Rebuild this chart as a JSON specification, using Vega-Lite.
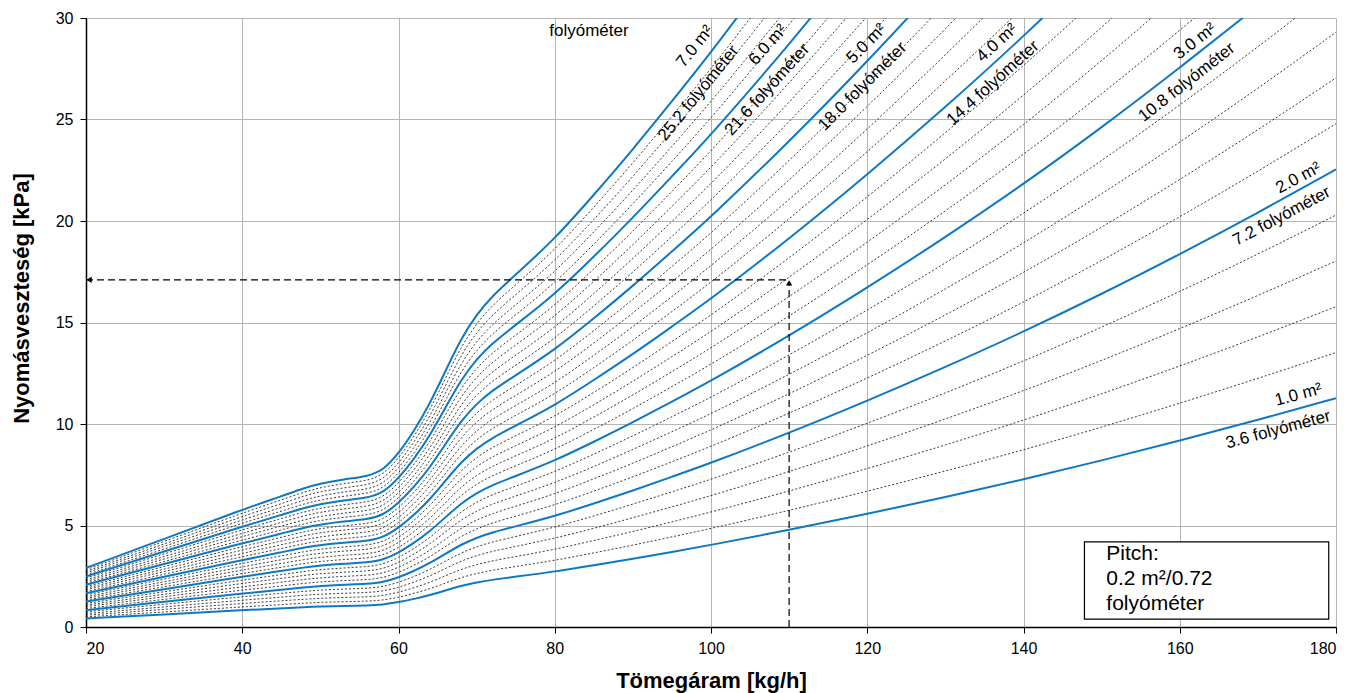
{
"$schema": "https://vega.github.io/schema/vega-lite/v6.json",
"width": 1250, "height": 609,
"autosize": {"type": "none"},
"padding": {"left": 86, "top": 18, "right": 18, "bottom": 66},
"background": "#ffffff",
"config": {
  "font": "Liberation Sans",
  "view": {"stroke": null},
  "axis": {"labelFont": "Liberation Sans", "labelFontSize": 16, "labelColor": "#000000", "titleFont": "Liberation Sans", "titleFontSize": 22, "titleFontWeight": "bold", "titleColor": "#000000", "domainColor": "#000000", "domainWidth": 1.5, "tickColor": "#000000", "tickSize": 6, "tickWidth": 1, "gridColor": "#b4b4b4", "gridWidth": 1, "labelPadding": 7}
},
"datasets": {"curves": [
{"a":1,"x":20,"y":0.42},{"a":1.2,"x":20,"y":0.5},{"a":1.4,"x":20,"y":0.58},{"a":1.6,"x":20,"y":0.66},{"a":1.8,"x":20,"y":0.75},{"a":2,"x":20,"y":0.83},{"a":2.2,"x":20,"y":0.91},{"a":2.4,"x":20,"y":1},{"a":2.6,"x":20,"y":1.08},{"a":2.8,"x":20,"y":1.16},{"a":3,"x":20,"y":1.25},{"a":3.2,"x":20,"y":1.33},{"a":3.4,"x":20,"y":1.41},{"a":3.6,"x":20,"y":1.49},{"a":3.8,"x":20,"y":1.58},{"a":4,"x":20,"y":1.66},{"a":4.2,"x":20,"y":1.74},{"a":4.4,"x":20,"y":1.83},{"a":4.6,"x":20,"y":1.91},{"a":4.8,"x":20,"y":1.99},{"a":5,"x":20,"y":2.08},{"a":5.2,"x":20,"y":2.16},{"a":5.4,"x":20,"y":2.24},{"a":5.6,"x":20,"y":2.32},{"a":5.8,"x":20,"y":2.41},{"a":6,"x":20,"y":2.49},{"a":6.2,"x":20,"y":2.57},{"a":6.4,"x":20,"y":2.66},{"a":6.6,"x":20,"y":2.74},{"a":6.8,"x":20,"y":2.82},{"a":7,"x":20,"y":2.91},
{"a":1,"x":30,"y":0.62},{"a":1.2,"x":30,"y":0.74},{"a":1.4,"x":30,"y":0.87},{"a":1.6,"x":30,"y":0.99},{"a":1.8,"x":30,"y":1.12},{"a":2,"x":30,"y":1.24},{"a":2.2,"x":30,"y":1.36},{"a":2.4,"x":30,"y":1.49},{"a":2.6,"x":30,"y":1.61},{"a":2.8,"x":30,"y":1.74},{"a":3,"x":30,"y":1.86},{"a":3.2,"x":30,"y":1.98},{"a":3.4,"x":30,"y":2.11},{"a":3.6,"x":30,"y":2.23},{"a":3.8,"x":30,"y":2.36},{"a":4,"x":30,"y":2.48},{"a":4.2,"x":30,"y":2.6},{"a":4.4,"x":30,"y":2.73},{"a":4.6,"x":30,"y":2.85},{"a":4.8,"x":30,"y":2.98},{"a":5,"x":30,"y":3.1},{"a":5.2,"x":30,"y":3.22},{"a":5.4,"x":30,"y":3.35},{"a":5.6,"x":30,"y":3.47},{"a":5.8,"x":30,"y":3.6},{"a":6,"x":30,"y":3.72},{"a":6.2,"x":30,"y":3.84},{"a":6.4,"x":30,"y":3.97},{"a":6.6,"x":30,"y":4.09},{"a":6.8,"x":30,"y":4.22},{"a":7,"x":30,"y":4.34},
{"a":1,"x":40,"y":0.83},{"a":1.2,"x":40,"y":0.99},{"a":1.4,"x":40,"y":1.16},{"a":1.6,"x":40,"y":1.32},{"a":1.8,"x":40,"y":1.49},{"a":2,"x":40,"y":1.65},{"a":2.2,"x":40,"y":1.82},{"a":2.4,"x":40,"y":1.98},{"a":2.6,"x":40,"y":2.15},{"a":2.8,"x":40,"y":2.31},{"a":3,"x":40,"y":2.48},{"a":3.2,"x":40,"y":2.64},{"a":3.4,"x":40,"y":2.81},{"a":3.6,"x":40,"y":2.97},{"a":3.8,"x":40,"y":3.14},{"a":4,"x":40,"y":3.3},{"a":4.2,"x":40,"y":3.47},{"a":4.4,"x":40,"y":3.63},{"a":4.6,"x":40,"y":3.8},{"a":4.8,"x":40,"y":3.96},{"a":5,"x":40,"y":4.13},{"a":5.2,"x":40,"y":4.29},{"a":5.4,"x":40,"y":4.46},{"a":5.6,"x":40,"y":4.62},{"a":5.8,"x":40,"y":4.79},{"a":6,"x":40,"y":4.95},{"a":6.2,"x":40,"y":5.12},{"a":6.4,"x":40,"y":5.28},{"a":6.6,"x":40,"y":5.45},{"a":6.8,"x":40,"y":5.61},{"a":7,"x":40,"y":5.78},
{"a":1,"x":45,"y":0.92},{"a":1.2,"x":45,"y":1.1},{"a":1.4,"x":45,"y":1.29},{"a":1.6,"x":45,"y":1.47},{"a":1.8,"x":45,"y":1.66},{"a":2,"x":45,"y":1.84},{"a":2.2,"x":45,"y":2.02},{"a":2.4,"x":45,"y":2.21},{"a":2.6,"x":45,"y":2.39},{"a":2.8,"x":45,"y":2.58},{"a":3,"x":45,"y":2.76},{"a":3.2,"x":45,"y":2.94},{"a":3.4,"x":45,"y":3.13},{"a":3.6,"x":45,"y":3.31},{"a":3.8,"x":45,"y":3.5},{"a":4,"x":45,"y":3.68},{"a":4.2,"x":45,"y":3.86},{"a":4.4,"x":45,"y":4.05},{"a":4.6,"x":45,"y":4.23},{"a":4.8,"x":45,"y":4.42},{"a":5,"x":45,"y":4.6},{"a":5.2,"x":45,"y":4.78},{"a":5.4,"x":45,"y":4.97},{"a":5.6,"x":45,"y":5.15},{"a":5.8,"x":45,"y":5.34},{"a":6,"x":45,"y":5.52},{"a":6.2,"x":45,"y":5.7},{"a":6.4,"x":45,"y":5.89},{"a":6.6,"x":45,"y":6.07},{"a":6.8,"x":45,"y":6.26},{"a":7,"x":45,"y":6.44},
{"a":1,"x":48,"y":0.98},{"a":1.2,"x":48,"y":1.18},{"a":1.4,"x":48,"y":1.37},{"a":1.6,"x":48,"y":1.57},{"a":1.8,"x":48,"y":1.76},{"a":2,"x":48,"y":1.96},{"a":2.2,"x":48,"y":2.16},{"a":2.4,"x":48,"y":2.35},{"a":2.6,"x":48,"y":2.55},{"a":2.8,"x":48,"y":2.74},{"a":3,"x":48,"y":2.94},{"a":3.2,"x":48,"y":3.14},{"a":3.4,"x":48,"y":3.33},{"a":3.6,"x":48,"y":3.53},{"a":3.8,"x":48,"y":3.72},{"a":4,"x":48,"y":3.92},{"a":4.2,"x":48,"y":4.12},{"a":4.4,"x":48,"y":4.31},{"a":4.6,"x":48,"y":4.51},{"a":4.8,"x":48,"y":4.7},{"a":5,"x":48,"y":4.9},{"a":5.2,"x":48,"y":5.1},{"a":5.4,"x":48,"y":5.29},{"a":5.6,"x":48,"y":5.49},{"a":5.8,"x":48,"y":5.68},{"a":6,"x":48,"y":5.88},{"a":6.2,"x":48,"y":6.08},{"a":6.4,"x":48,"y":6.27},{"a":6.6,"x":48,"y":6.47},{"a":6.8,"x":48,"y":6.66},{"a":7,"x":48,"y":6.86},
{"a":1,"x":50,"y":1.01},{"a":1.2,"x":50,"y":1.21},{"a":1.4,"x":50,"y":1.41},{"a":1.6,"x":50,"y":1.62},{"a":1.8,"x":50,"y":1.82},{"a":2,"x":50,"y":2.02},{"a":2.2,"x":50,"y":2.22},{"a":2.4,"x":50,"y":2.42},{"a":2.6,"x":50,"y":2.63},{"a":2.8,"x":50,"y":2.83},{"a":3,"x":50,"y":3.03},{"a":3.2,"x":50,"y":3.23},{"a":3.4,"x":50,"y":3.43},{"a":3.6,"x":50,"y":3.64},{"a":3.8,"x":50,"y":3.84},{"a":4,"x":50,"y":4.04},{"a":4.2,"x":50,"y":4.24},{"a":4.4,"x":50,"y":4.44},{"a":4.6,"x":50,"y":4.65},{"a":4.8,"x":50,"y":4.85},{"a":5,"x":50,"y":5.05},{"a":5.2,"x":50,"y":5.25},{"a":5.4,"x":50,"y":5.45},{"a":5.6,"x":50,"y":5.66},{"a":5.8,"x":50,"y":5.86},{"a":6,"x":50,"y":6.06},{"a":6.2,"x":50,"y":6.26},{"a":6.4,"x":50,"y":6.46},{"a":6.6,"x":50,"y":6.67},{"a":6.8,"x":50,"y":6.87},{"a":7,"x":50,"y":7.07},
{"a":1,"x":53,"y":1.04},{"a":1.2,"x":53,"y":1.25},{"a":1.4,"x":53,"y":1.46},{"a":1.6,"x":53,"y":1.66},{"a":1.8,"x":53,"y":1.87},{"a":2,"x":53,"y":2.08},{"a":2.2,"x":53,"y":2.29},{"a":2.4,"x":53,"y":2.5},{"a":2.6,"x":53,"y":2.7},{"a":2.8,"x":53,"y":2.91},{"a":3,"x":53,"y":3.12},{"a":3.2,"x":53,"y":3.33},{"a":3.4,"x":53,"y":3.54},{"a":3.6,"x":53,"y":3.74},{"a":3.8,"x":53,"y":3.95},{"a":4,"x":53,"y":4.16},{"a":4.2,"x":53,"y":4.37},{"a":4.4,"x":53,"y":4.58},{"a":4.6,"x":53,"y":4.78},{"a":4.8,"x":53,"y":4.99},{"a":5,"x":53,"y":5.2},{"a":5.2,"x":53,"y":5.41},{"a":5.4,"x":53,"y":5.62},{"a":5.6,"x":53,"y":5.82},{"a":5.8,"x":53,"y":6.03},{"a":6,"x":53,"y":6.24},{"a":6.2,"x":53,"y":6.45},{"a":6.4,"x":53,"y":6.66},{"a":6.6,"x":53,"y":6.86},{"a":6.8,"x":53,"y":7.07},{"a":7,"x":53,"y":7.28},
{"a":1,"x":56,"y":1.06},{"a":1.2,"x":56,"y":1.27},{"a":1.4,"x":56,"y":1.48},{"a":1.6,"x":56,"y":1.7},{"a":1.8,"x":56,"y":1.91},{"a":2,"x":56,"y":2.12},{"a":2.2,"x":56,"y":2.33},{"a":2.4,"x":56,"y":2.54},{"a":2.6,"x":56,"y":2.76},{"a":2.8,"x":56,"y":2.97},{"a":3,"x":56,"y":3.18},{"a":3.2,"x":56,"y":3.39},{"a":3.4,"x":56,"y":3.6},{"a":3.6,"x":56,"y":3.82},{"a":3.8,"x":56,"y":4.03},{"a":4,"x":56,"y":4.24},{"a":4.2,"x":56,"y":4.45},{"a":4.4,"x":56,"y":4.66},{"a":4.6,"x":56,"y":4.88},{"a":4.8,"x":56,"y":5.09},{"a":5,"x":56,"y":5.3},{"a":5.2,"x":56,"y":5.51},{"a":5.4,"x":56,"y":5.72},{"a":5.6,"x":56,"y":5.94},{"a":5.8,"x":56,"y":6.15},{"a":6,"x":56,"y":6.36},{"a":6.2,"x":56,"y":6.57},{"a":6.4,"x":56,"y":6.78},{"a":6.6,"x":56,"y":7},{"a":6.8,"x":56,"y":7.21},{"a":7,"x":56,"y":7.42},
{"a":1,"x":58,"y":1.1},{"a":1.2,"x":58,"y":1.32},{"a":1.4,"x":58,"y":1.54},{"a":1.6,"x":58,"y":1.76},{"a":1.8,"x":58,"y":1.98},{"a":2,"x":58,"y":2.2},{"a":2.2,"x":58,"y":2.42},{"a":2.4,"x":58,"y":2.64},{"a":2.6,"x":58,"y":2.86},{"a":2.8,"x":58,"y":3.08},{"a":3,"x":58,"y":3.3},{"a":3.2,"x":58,"y":3.52},{"a":3.4,"x":58,"y":3.74},{"a":3.6,"x":58,"y":3.96},{"a":3.8,"x":58,"y":4.18},{"a":4,"x":58,"y":4.4},{"a":4.2,"x":58,"y":4.62},{"a":4.4,"x":58,"y":4.84},{"a":4.6,"x":58,"y":5.06},{"a":4.8,"x":58,"y":5.28},{"a":5,"x":58,"y":5.5},{"a":5.2,"x":58,"y":5.72},{"a":5.4,"x":58,"y":5.94},{"a":5.6,"x":58,"y":6.16},{"a":5.8,"x":58,"y":6.38},{"a":6,"x":58,"y":6.6},{"a":6.2,"x":58,"y":6.82},{"a":6.4,"x":58,"y":7.04},{"a":6.6,"x":58,"y":7.26},{"a":6.8,"x":58,"y":7.48},{"a":7,"x":58,"y":7.7},
{"a":1,"x":60,"y":1.22},{"a":1.2,"x":60,"y":1.46},{"a":1.4,"x":60,"y":1.71},{"a":1.6,"x":60,"y":1.95},{"a":1.8,"x":60,"y":2.2},{"a":2,"x":60,"y":2.44},{"a":2.2,"x":60,"y":2.68},{"a":2.4,"x":60,"y":2.93},{"a":2.6,"x":60,"y":3.17},{"a":2.8,"x":60,"y":3.42},{"a":3,"x":60,"y":3.66},{"a":3.2,"x":60,"y":3.9},{"a":3.4,"x":60,"y":4.15},{"a":3.6,"x":60,"y":4.39},{"a":3.8,"x":60,"y":4.64},{"a":4,"x":60,"y":4.88},{"a":4.2,"x":60,"y":5.12},{"a":4.4,"x":60,"y":5.37},{"a":4.6,"x":60,"y":5.61},{"a":4.8,"x":60,"y":5.86},{"a":5,"x":60,"y":6.1},{"a":5.2,"x":60,"y":6.34},{"a":5.4,"x":60,"y":6.59},{"a":5.6,"x":60,"y":6.83},{"a":5.8,"x":60,"y":7.08},{"a":6,"x":60,"y":7.32},{"a":6.2,"x":60,"y":7.56},{"a":6.4,"x":60,"y":7.81},{"a":6.6,"x":60,"y":8.05},{"a":6.8,"x":60,"y":8.3},{"a":7,"x":60,"y":8.54},
{"a":1,"x":62,"y":1.38},{"a":1.2,"x":62,"y":1.66},{"a":1.4,"x":62,"y":1.93},{"a":1.6,"x":62,"y":2.21},{"a":1.8,"x":62,"y":2.48},{"a":2,"x":62,"y":2.76},{"a":2.2,"x":62,"y":3.04},{"a":2.4,"x":62,"y":3.31},{"a":2.6,"x":62,"y":3.59},{"a":2.8,"x":62,"y":3.86},{"a":3,"x":62,"y":4.14},{"a":3.2,"x":62,"y":4.42},{"a":3.4,"x":62,"y":4.69},{"a":3.6,"x":62,"y":4.97},{"a":3.8,"x":62,"y":5.24},{"a":4,"x":62,"y":5.52},{"a":4.2,"x":62,"y":5.8},{"a":4.4,"x":62,"y":6.07},{"a":4.6,"x":62,"y":6.35},{"a":4.8,"x":62,"y":6.62},{"a":5,"x":62,"y":6.9},{"a":5.2,"x":62,"y":7.18},{"a":5.4,"x":62,"y":7.45},{"a":5.6,"x":62,"y":7.73},{"a":5.8,"x":62,"y":8},{"a":6,"x":62,"y":8.28},{"a":6.2,"x":62,"y":8.56},{"a":6.4,"x":62,"y":8.83},{"a":6.6,"x":62,"y":9.11},{"a":6.8,"x":62,"y":9.38},{"a":7,"x":62,"y":9.66},
{"a":1,"x":64,"y":1.57},{"a":1.2,"x":64,"y":1.88},{"a":1.4,"x":64,"y":2.2},{"a":1.6,"x":64,"y":2.51},{"a":1.8,"x":64,"y":2.83},{"a":2,"x":64,"y":3.14},{"a":2.2,"x":64,"y":3.45},{"a":2.4,"x":64,"y":3.77},{"a":2.6,"x":64,"y":4.08},{"a":2.8,"x":64,"y":4.4},{"a":3,"x":64,"y":4.71},{"a":3.2,"x":64,"y":5.02},{"a":3.4,"x":64,"y":5.34},{"a":3.6,"x":64,"y":5.65},{"a":3.8,"x":64,"y":5.97},{"a":4,"x":64,"y":6.28},{"a":4.2,"x":64,"y":6.59},{"a":4.4,"x":64,"y":6.91},{"a":4.6,"x":64,"y":7.22},{"a":4.8,"x":64,"y":7.54},{"a":5,"x":64,"y":7.85},{"a":5.2,"x":64,"y":8.16},{"a":5.4,"x":64,"y":8.48},{"a":5.6,"x":64,"y":8.79},{"a":5.8,"x":64,"y":9.11},{"a":6,"x":64,"y":9.42},{"a":6.2,"x":64,"y":9.73},{"a":6.4,"x":64,"y":10.05},{"a":6.6,"x":64,"y":10.36},{"a":6.8,"x":64,"y":10.68},{"a":7,"x":64,"y":10.99},
{"a":1,"x":66,"y":1.8},{"a":1.2,"x":66,"y":2.16},{"a":1.4,"x":66,"y":2.52},{"a":1.6,"x":66,"y":2.88},{"a":1.8,"x":66,"y":3.24},{"a":2,"x":66,"y":3.6},{"a":2.2,"x":66,"y":3.96},{"a":2.4,"x":66,"y":4.32},{"a":2.6,"x":66,"y":4.68},{"a":2.8,"x":66,"y":5.04},{"a":3,"x":66,"y":5.4},{"a":3.2,"x":66,"y":5.76},{"a":3.4,"x":66,"y":6.12},{"a":3.6,"x":66,"y":6.48},{"a":3.8,"x":66,"y":6.84},{"a":4,"x":66,"y":7.2},{"a":4.2,"x":66,"y":7.56},{"a":4.4,"x":66,"y":7.92},{"a":4.6,"x":66,"y":8.28},{"a":4.8,"x":66,"y":8.64},{"a":5,"x":66,"y":9},{"a":5.2,"x":66,"y":9.36},{"a":5.4,"x":66,"y":9.72},{"a":5.6,"x":66,"y":10.08},{"a":5.8,"x":66,"y":10.44},{"a":6,"x":66,"y":10.8},{"a":6.2,"x":66,"y":11.16},{"a":6.4,"x":66,"y":11.52},{"a":6.6,"x":66,"y":11.88},{"a":6.8,"x":66,"y":12.24},{"a":7,"x":66,"y":12.6},
{"a":1,"x":68,"y":2.03},{"a":1.2,"x":68,"y":2.44},{"a":1.4,"x":68,"y":2.84},{"a":1.6,"x":68,"y":3.25},{"a":1.8,"x":68,"y":3.65},{"a":2,"x":68,"y":4.06},{"a":2.2,"x":68,"y":4.47},{"a":2.4,"x":68,"y":4.87},{"a":2.6,"x":68,"y":5.28},{"a":2.8,"x":68,"y":5.68},{"a":3,"x":68,"y":6.09},{"a":3.2,"x":68,"y":6.5},{"a":3.4,"x":68,"y":6.9},{"a":3.6,"x":68,"y":7.31},{"a":3.8,"x":68,"y":7.71},{"a":4,"x":68,"y":8.12},{"a":4.2,"x":68,"y":8.53},{"a":4.4,"x":68,"y":8.93},{"a":4.6,"x":68,"y":9.34},{"a":4.8,"x":68,"y":9.74},{"a":5,"x":68,"y":10.15},{"a":5.2,"x":68,"y":10.56},{"a":5.4,"x":68,"y":10.96},{"a":5.6,"x":68,"y":11.37},{"a":5.8,"x":68,"y":11.77},{"a":6,"x":68,"y":12.18},{"a":6.2,"x":68,"y":12.59},{"a":6.4,"x":68,"y":12.99},{"a":6.6,"x":68,"y":13.4},{"a":6.8,"x":68,"y":13.8},{"a":7,"x":68,"y":14.21},
{"a":1,"x":70,"y":2.2},{"a":1.2,"x":70,"y":2.64},{"a":1.4,"x":70,"y":3.08},{"a":1.6,"x":70,"y":3.52},{"a":1.8,"x":70,"y":3.96},{"a":2,"x":70,"y":4.4},{"a":2.2,"x":70,"y":4.84},{"a":2.4,"x":70,"y":5.28},{"a":2.6,"x":70,"y":5.72},{"a":2.8,"x":70,"y":6.16},{"a":3,"x":70,"y":6.6},{"a":3.2,"x":70,"y":7.04},{"a":3.4,"x":70,"y":7.48},{"a":3.6,"x":70,"y":7.92},{"a":3.8,"x":70,"y":8.36},{"a":4,"x":70,"y":8.8},{"a":4.2,"x":70,"y":9.24},{"a":4.4,"x":70,"y":9.68},{"a":4.6,"x":70,"y":10.12},{"a":4.8,"x":70,"y":10.56},{"a":5,"x":70,"y":11},{"a":5.2,"x":70,"y":11.44},{"a":5.4,"x":70,"y":11.88},{"a":5.6,"x":70,"y":12.32},{"a":5.8,"x":70,"y":12.76},{"a":6,"x":70,"y":13.2},{"a":6.2,"x":70,"y":13.64},{"a":6.4,"x":70,"y":14.08},{"a":6.6,"x":70,"y":14.52},{"a":6.8,"x":70,"y":14.96},{"a":7,"x":70,"y":15.4},
{"a":1,"x":72,"y":2.33},{"a":1.2,"x":72,"y":2.8},{"a":1.4,"x":72,"y":3.26},{"a":1.6,"x":72,"y":3.73},{"a":1.8,"x":72,"y":4.19},{"a":2,"x":72,"y":4.66},{"a":2.2,"x":72,"y":5.13},{"a":2.4,"x":72,"y":5.59},{"a":2.6,"x":72,"y":6.06},{"a":2.8,"x":72,"y":6.52},{"a":3,"x":72,"y":6.99},{"a":3.2,"x":72,"y":7.46},{"a":3.4,"x":72,"y":7.92},{"a":3.6,"x":72,"y":8.39},{"a":3.8,"x":72,"y":8.85},{"a":4,"x":72,"y":9.32},{"a":4.2,"x":72,"y":9.79},{"a":4.4,"x":72,"y":10.25},{"a":4.6,"x":72,"y":10.72},{"a":4.8,"x":72,"y":11.18},{"a":5,"x":72,"y":11.65},{"a":5.2,"x":72,"y":12.12},{"a":5.4,"x":72,"y":12.58},{"a":5.6,"x":72,"y":13.05},{"a":5.8,"x":72,"y":13.51},{"a":6,"x":72,"y":13.98},{"a":6.2,"x":72,"y":14.45},{"a":6.4,"x":72,"y":14.91},{"a":6.6,"x":72,"y":15.38},{"a":6.8,"x":72,"y":15.84},{"a":7,"x":72,"y":16.31},
{"a":1,"x":75,"y":2.48},{"a":1.2,"x":75,"y":2.98},{"a":1.4,"x":75,"y":3.47},{"a":1.6,"x":75,"y":3.97},{"a":1.8,"x":75,"y":4.46},{"a":2,"x":75,"y":4.96},{"a":2.2,"x":75,"y":5.46},{"a":2.4,"x":75,"y":5.95},{"a":2.6,"x":75,"y":6.45},{"a":2.8,"x":75,"y":6.94},{"a":3,"x":75,"y":7.44},{"a":3.2,"x":75,"y":7.94},{"a":3.4,"x":75,"y":8.43},{"a":3.6,"x":75,"y":8.93},{"a":3.8,"x":75,"y":9.42},{"a":4,"x":75,"y":9.92},{"a":4.2,"x":75,"y":10.42},{"a":4.4,"x":75,"y":10.91},{"a":4.6,"x":75,"y":11.41},{"a":4.8,"x":75,"y":11.9},{"a":5,"x":75,"y":12.4},{"a":5.2,"x":75,"y":12.9},{"a":5.4,"x":75,"y":13.39},{"a":5.6,"x":75,"y":13.89},{"a":5.8,"x":75,"y":14.38},{"a":6,"x":75,"y":14.88},{"a":6.2,"x":75,"y":15.38},{"a":6.4,"x":75,"y":15.87},{"a":6.6,"x":75,"y":16.37},{"a":6.8,"x":75,"y":16.86},{"a":7,"x":75,"y":17.36},
{"a":1,"x":80,"y":2.73},{"a":1.2,"x":80,"y":3.28},{"a":1.4,"x":80,"y":3.82},{"a":1.6,"x":80,"y":4.37},{"a":1.8,"x":80,"y":4.91},{"a":2,"x":80,"y":5.46},{"a":2.2,"x":80,"y":6.01},{"a":2.4,"x":80,"y":6.55},{"a":2.6,"x":80,"y":7.1},{"a":2.8,"x":80,"y":7.64},{"a":3,"x":80,"y":8.19},{"a":3.2,"x":80,"y":8.74},{"a":3.4,"x":80,"y":9.28},{"a":3.6,"x":80,"y":9.83},{"a":3.8,"x":80,"y":10.37},{"a":4,"x":80,"y":10.92},{"a":4.2,"x":80,"y":11.47},{"a":4.4,"x":80,"y":12.01},{"a":4.6,"x":80,"y":12.56},{"a":4.8,"x":80,"y":13.1},{"a":5,"x":80,"y":13.65},{"a":5.2,"x":80,"y":14.2},{"a":5.4,"x":80,"y":14.74},{"a":5.6,"x":80,"y":15.29},{"a":5.8,"x":80,"y":15.83},{"a":6,"x":80,"y":16.38},{"a":6.2,"x":80,"y":16.93},{"a":6.4,"x":80,"y":17.47},{"a":6.6,"x":80,"y":18.02},{"a":6.8,"x":80,"y":18.56},{"a":7,"x":80,"y":19.11},
{"a":1,"x":85,"y":3.04},{"a":1.2,"x":85,"y":3.65},{"a":1.4,"x":85,"y":4.26},{"a":1.6,"x":85,"y":4.86},{"a":1.8,"x":85,"y":5.47},{"a":2,"x":85,"y":6.08},{"a":2.2,"x":85,"y":6.69},{"a":2.4,"x":85,"y":7.3},{"a":2.6,"x":85,"y":7.9},{"a":2.8,"x":85,"y":8.51},{"a":3,"x":85,"y":9.12},{"a":3.2,"x":85,"y":9.73},{"a":3.4,"x":85,"y":10.34},{"a":3.6,"x":85,"y":10.94},{"a":3.8,"x":85,"y":11.55},{"a":4,"x":85,"y":12.16},{"a":4.2,"x":85,"y":12.77},{"a":4.4,"x":85,"y":13.38},{"a":4.6,"x":85,"y":13.98},{"a":4.8,"x":85,"y":14.59},{"a":5,"x":85,"y":15.2},{"a":5.2,"x":85,"y":15.81},{"a":5.4,"x":85,"y":16.42},{"a":5.6,"x":85,"y":17.02},{"a":5.8,"x":85,"y":17.63},{"a":6,"x":85,"y":18.24},{"a":6.2,"x":85,"y":18.85},{"a":6.4,"x":85,"y":19.46},{"a":6.6,"x":85,"y":20.06},{"a":6.8,"x":85,"y":20.67},{"a":7,"x":85,"y":21.28},
{"a":1,"x":90,"y":3.36},{"a":1.2,"x":90,"y":4.03},{"a":1.4,"x":90,"y":4.7},{"a":1.6,"x":90,"y":5.38},{"a":1.8,"x":90,"y":6.05},{"a":2,"x":90,"y":6.72},{"a":2.2,"x":90,"y":7.39},{"a":2.4,"x":90,"y":8.06},{"a":2.6,"x":90,"y":8.74},{"a":2.8,"x":90,"y":9.41},{"a":3,"x":90,"y":10.08},{"a":3.2,"x":90,"y":10.75},{"a":3.4,"x":90,"y":11.42},{"a":3.6,"x":90,"y":12.1},{"a":3.8,"x":90,"y":12.77},{"a":4,"x":90,"y":13.44},{"a":4.2,"x":90,"y":14.11},{"a":4.4,"x":90,"y":14.78},{"a":4.6,"x":90,"y":15.46},{"a":4.8,"x":90,"y":16.13},{"a":5,"x":90,"y":16.8},{"a":5.2,"x":90,"y":17.47},{"a":5.4,"x":90,"y":18.14},{"a":5.6,"x":90,"y":18.82},{"a":5.8,"x":90,"y":19.49},{"a":6,"x":90,"y":20.16},{"a":6.2,"x":90,"y":20.83},{"a":6.4,"x":90,"y":21.5},{"a":6.6,"x":90,"y":22.18},{"a":6.8,"x":90,"y":22.85},{"a":7,"x":90,"y":23.52},
{"a":1,"x":95,"y":3.7},{"a":1.2,"x":95,"y":4.44},{"a":1.4,"x":95,"y":5.18},{"a":1.6,"x":95,"y":5.92},{"a":1.8,"x":95,"y":6.66},{"a":2,"x":95,"y":7.4},{"a":2.2,"x":95,"y":8.14},{"a":2.4,"x":95,"y":8.88},{"a":2.6,"x":95,"y":9.62},{"a":2.8,"x":95,"y":10.36},{"a":3,"x":95,"y":11.1},{"a":3.2,"x":95,"y":11.84},{"a":3.4,"x":95,"y":12.58},{"a":3.6,"x":95,"y":13.32},{"a":3.8,"x":95,"y":14.06},{"a":4,"x":95,"y":14.8},{"a":4.2,"x":95,"y":15.54},{"a":4.4,"x":95,"y":16.28},{"a":4.6,"x":95,"y":17.02},{"a":4.8,"x":95,"y":17.76},{"a":5,"x":95,"y":18.5},{"a":5.2,"x":95,"y":19.24},{"a":5.4,"x":95,"y":19.98},{"a":5.6,"x":95,"y":20.72},{"a":5.8,"x":95,"y":21.46},{"a":6,"x":95,"y":22.2},{"a":6.2,"x":95,"y":22.94},{"a":6.4,"x":95,"y":23.68},{"a":6.6,"x":95,"y":24.42},{"a":6.8,"x":95,"y":25.16},{"a":7,"x":95,"y":25.9},
{"a":1,"x":100,"y":4.04},{"a":1.2,"x":100,"y":4.85},{"a":1.4,"x":100,"y":5.66},{"a":1.6,"x":100,"y":6.46},{"a":1.8,"x":100,"y":7.27},{"a":2,"x":100,"y":8.08},{"a":2.2,"x":100,"y":8.89},{"a":2.4,"x":100,"y":9.7},{"a":2.6,"x":100,"y":10.5},{"a":2.8,"x":100,"y":11.31},{"a":3,"x":100,"y":12.12},{"a":3.2,"x":100,"y":12.93},{"a":3.4,"x":100,"y":13.74},{"a":3.6,"x":100,"y":14.54},{"a":3.8,"x":100,"y":15.35},{"a":4,"x":100,"y":16.16},{"a":4.2,"x":100,"y":16.97},{"a":4.4,"x":100,"y":17.78},{"a":4.6,"x":100,"y":18.58},{"a":4.8,"x":100,"y":19.39},{"a":5,"x":100,"y":20.2},{"a":5.2,"x":100,"y":21.01},{"a":5.4,"x":100,"y":21.82},{"a":5.6,"x":100,"y":22.62},{"a":5.8,"x":100,"y":23.43},{"a":6,"x":100,"y":24.24},{"a":6.2,"x":100,"y":25.05},{"a":6.4,"x":100,"y":25.86},{"a":6.6,"x":100,"y":26.66},{"a":6.8,"x":100,"y":27.47},{"a":7,"x":100,"y":28.28},
{"a":1,"x":110,"y":4.78},{"a":1.2,"x":110,"y":5.74},{"a":1.4,"x":110,"y":6.69},{"a":1.6,"x":110,"y":7.65},{"a":1.8,"x":110,"y":8.6},{"a":2,"x":110,"y":9.56},{"a":2.2,"x":110,"y":10.52},{"a":2.4,"x":110,"y":11.47},{"a":2.6,"x":110,"y":12.43},{"a":2.8,"x":110,"y":13.38},{"a":3,"x":110,"y":14.34},{"a":3.2,"x":110,"y":15.3},{"a":3.4,"x":110,"y":16.25},{"a":3.6,"x":110,"y":17.21},{"a":3.8,"x":110,"y":18.16},{"a":4,"x":110,"y":19.12},{"a":4.2,"x":110,"y":20.08},{"a":4.4,"x":110,"y":21.03},{"a":4.6,"x":110,"y":21.99},{"a":4.8,"x":110,"y":22.94},{"a":5,"x":110,"y":23.9},{"a":5.2,"x":110,"y":24.86},{"a":5.4,"x":110,"y":25.81},{"a":5.6,"x":110,"y":26.77},{"a":5.8,"x":110,"y":27.72},{"a":6,"x":110,"y":28.68},{"a":6.2,"x":110,"y":29.64},{"a":6.4,"x":110,"y":30.59},{"a":6.6,"x":110,"y":31.55},{"a":6.8,"x":110,"y":32.5},{"a":7,"x":110,"y":33.46},
{"a":1,"x":120,"y":5.57},{"a":1.2,"x":120,"y":6.68},{"a":1.4,"x":120,"y":7.8},{"a":1.6,"x":120,"y":8.91},{"a":1.8,"x":120,"y":10.03},{"a":2,"x":120,"y":11.14},{"a":2.2,"x":120,"y":12.25},{"a":2.4,"x":120,"y":13.37},{"a":2.6,"x":120,"y":14.48},{"a":2.8,"x":120,"y":15.6},{"a":3,"x":120,"y":16.71},{"a":3.2,"x":120,"y":17.82},{"a":3.4,"x":120,"y":18.94},{"a":3.6,"x":120,"y":20.05},{"a":3.8,"x":120,"y":21.17},{"a":4,"x":120,"y":22.28},{"a":4.2,"x":120,"y":23.39},{"a":4.4,"x":120,"y":24.51},{"a":4.6,"x":120,"y":25.62},{"a":4.8,"x":120,"y":26.74},{"a":5,"x":120,"y":27.85},{"a":5.2,"x":120,"y":28.96},{"a":5.4,"x":120,"y":30.08},{"a":5.6,"x":120,"y":31.19},{"a":5.8,"x":120,"y":32.31},{"a":6,"x":120,"y":33.42},{"a":6.2,"x":120,"y":34.53},
{"a":1,"x":130,"y":6.4},{"a":1.2,"x":130,"y":7.68},{"a":1.4,"x":130,"y":8.96},{"a":1.6,"x":130,"y":10.24},{"a":1.8,"x":130,"y":11.52},{"a":2,"x":130,"y":12.8},{"a":2.2,"x":130,"y":14.08},{"a":2.4,"x":130,"y":15.36},{"a":2.6,"x":130,"y":16.64},{"a":2.8,"x":130,"y":17.92},{"a":3,"x":130,"y":19.2},{"a":3.2,"x":130,"y":20.48},{"a":3.4,"x":130,"y":21.76},{"a":3.6,"x":130,"y":23.04},{"a":3.8,"x":130,"y":24.32},{"a":4,"x":130,"y":25.6},{"a":4.2,"x":130,"y":26.88},{"a":4.4,"x":130,"y":28.16},{"a":4.6,"x":130,"y":29.44},{"a":4.8,"x":130,"y":30.72},{"a":5,"x":130,"y":32},{"a":5.2,"x":130,"y":33.28},
{"a":1,"x":140,"y":7.27},{"a":1.2,"x":140,"y":8.72},{"a":1.4,"x":140,"y":10.18},{"a":1.6,"x":140,"y":11.63},{"a":1.8,"x":140,"y":13.09},{"a":2,"x":140,"y":14.54},{"a":2.2,"x":140,"y":15.99},{"a":2.4,"x":140,"y":17.45},{"a":2.6,"x":140,"y":18.9},{"a":2.8,"x":140,"y":20.36},{"a":3,"x":140,"y":21.81},{"a":3.2,"x":140,"y":23.26},{"a":3.4,"x":140,"y":24.72},{"a":3.6,"x":140,"y":26.17},{"a":3.8,"x":140,"y":27.63},{"a":4,"x":140,"y":29.08},{"a":4.2,"x":140,"y":30.53},{"a":4.4,"x":140,"y":31.99},{"a":4.6,"x":140,"y":33.44},
{"a":1,"x":150,"y":8.2},{"a":1.2,"x":150,"y":9.84},{"a":1.4,"x":150,"y":11.48},{"a":1.6,"x":150,"y":13.12},{"a":1.8,"x":150,"y":14.76},{"a":2,"x":150,"y":16.4},{"a":2.2,"x":150,"y":18.04},{"a":2.4,"x":150,"y":19.68},{"a":2.6,"x":150,"y":21.32},{"a":2.8,"x":150,"y":22.96},{"a":3,"x":150,"y":24.6},{"a":3.2,"x":150,"y":26.24},{"a":3.4,"x":150,"y":27.88},{"a":3.6,"x":150,"y":29.52},{"a":3.8,"x":150,"y":31.16},{"a":4,"x":150,"y":32.8},
{"a":1,"x":160,"y":9.18},{"a":1.2,"x":160,"y":11.02},{"a":1.4,"x":160,"y":12.85},{"a":1.6,"x":160,"y":14.69},{"a":1.8,"x":160,"y":16.52},{"a":2,"x":160,"y":18.36},{"a":2.2,"x":160,"y":20.2},{"a":2.4,"x":160,"y":22.03},{"a":2.6,"x":160,"y":23.87},{"a":2.8,"x":160,"y":25.7},{"a":3,"x":160,"y":27.54},{"a":3.2,"x":160,"y":29.38},{"a":3.4,"x":160,"y":31.21},{"a":3.6,"x":160,"y":33.05},
{"a":1,"x":170,"y":10.2},{"a":1.2,"x":170,"y":12.24},{"a":1.4,"x":170,"y":14.28},{"a":1.6,"x":170,"y":16.32},{"a":1.8,"x":170,"y":18.36},{"a":2,"x":170,"y":20.4},{"a":2.2,"x":170,"y":22.44},{"a":2.4,"x":170,"y":24.48},{"a":2.6,"x":170,"y":26.52},{"a":2.8,"x":170,"y":28.56},{"a":3,"x":170,"y":30.6},{"a":3.2,"x":170,"y":32.64},
{"a":1,"x":180,"y":11.27},{"a":1.2,"x":180,"y":13.52},{"a":1.4,"x":180,"y":15.78},{"a":1.6,"x":180,"y":18.03},{"a":1.8,"x":180,"y":20.29},{"a":2,"x":180,"y":22.54},{"a":2.2,"x":180,"y":24.79},{"a":2.4,"x":180,"y":27.05},{"a":2.6,"x":180,"y":29.3},{"a":2.8,"x":180,"y":31.56}
]},
"encoding": {
  "x": {"field": "x", "type": "quantitative", "scale": {"domain": [20, 180], "nice": false, "zero": false},
        "axis": {"title": "Tömegáram [kg/h]", "values": [20,40,60,80,100,120,140,160,180], "grid": true, "titleBaseline": "alphabetic", "titleY": 60}},
  "y": {"field": "y", "type": "quantitative", "scale": {"domain": [0, 30], "nice": false, "zero": false},
        "axis": {"title": "Nyomásveszteség [kPa]", "values": [0,5,10,15,20,25,30], "grid": true, "titleAngle": 270, "titleAlign": "center", "titleBaseline": "middle", "titleX": -65, "titleY": 280}}
},
"layer": [
  {"data": {"name": "curves"}, "transform": [{"filter": "datum.a != floor(datum.a)"}],
   "mark": {"type": "line", "interpolate": "basis", "clip": true, "color": "#222222", "strokeWidth": 0.9, "strokeDash": [2, 2]},
   "encoding": {"detail": {"field": "a", "type": "nominal"}}},
  {"data": {"name": "curves"}, "transform": [{"filter": "datum.a == floor(datum.a)"}],
   "mark": {"type": "line", "interpolate": "basis", "clip": true, "color": "#0f78c2", "strokeWidth": 2},
   "encoding": {"detail": {"field": "a", "type": "nominal"}}},
  {"data": {"values": [{"x": 20, "x2": 110, "y": 17.1}]},
   "mark": {"type": "rule", "color": "#000000", "strokeWidth": 1.2, "strokeDash": [7, 4]},
   "encoding": {"x2": {"field": "x2"}}},
  {"data": {"values": [{"x": 110, "y": 0, "y2": 16.9}]},
   "mark": {"type": "rule", "color": "#000000", "strokeWidth": 1.2, "strokeDash": [7, 4]},
   "encoding": {"y2": {"field": "y2"}}},
  {"data": {"values": [{"x": 110, "y": 17.1}]},
   "mark": {"type": "point", "shape": "triangle-up", "filled": true, "color": "#000000", "opacity": 1, "size": 40, "yOffset": 3}},
  {"data": {"values": [{"x": 20, "y": 17.1}]},
   "mark": {"type": "point", "shape": "triangle-left", "filled": true, "color": "#000000", "opacity": 1, "size": 40, "xOffset": 3}},
  {"data": {"values": [{"x": 147.8, "x2": 179.07, "y": 4.19, "y2": 0.39}]},
   "mark": {"type": "rect", "fill": "#ffffff", "stroke": "#000000", "strokeWidth": 1.2},
   "encoding": {"x2": {"field": "x2"}, "y2": {"field": "y2"}}},
  {"data": {"values": [{"x": 150.6, "y": 3.28, "t": "Pitch:\n0.2 m²/0.72\nfolyóméter"}]},
   "mark": {"type": "text", "align": "left", "baseline": "alphabetic", "fontSize": 21, "lineHeight": 25, "lineBreak": "\n", "color": "#000000"},
   "encoding": {"text": {"field": "t"}}},
  {"data": {"values": [{"x": 79.3, "y": 29.13, "t": "folyóméter"}]},
   "mark": {"type": "text", "align": "left", "baseline": "alphabetic", "fontSize": 17, "color": "#000000"},
   "encoding": {"text": {"field": "t"}}},
  {"data": {"values": [{"x": 97.95, "y": 28.6, "t": "7.0 m²"}, {"x": 98.4, "y": 26.3, "t": "25.2 folyóméter"}]},
   "mark": {"type": "text", "align": "center", "baseline": "middle", "fontSize": 17, "angle": 309, "color": "#000000"},
   "encoding": {"text": {"field": "t"}}},
  {"data": {"values": [{"x": 107.3, "y": 28.68, "t": "6.0 m²"}, {"x": 107.2, "y": 26.47, "t": "21.6 folyóméter"}]},
   "mark": {"type": "text", "align": "center", "baseline": "middle", "fontSize": 17, "angle": 312, "color": "#000000"},
   "encoding": {"text": {"field": "t"}}},
  {"data": {"values": [{"x": 119.9, "y": 28.73, "t": "5.0 m²"}, {"x": 119.4, "y": 26.63, "t": "18.0 folyóméter"}]},
   "mark": {"type": "text", "align": "center", "baseline": "middle", "fontSize": 17, "angle": 315, "color": "#000000"},
   "encoding": {"text": {"field": "t"}}},
  {"data": {"values": [{"x": 136.6, "y": 28.77, "t": "4.0 m²"}, {"x": 136.1, "y": 26.8, "t": "14.4 folyóméter"}]},
   "mark": {"type": "text", "align": "center", "baseline": "middle", "fontSize": 17, "angle": 318, "color": "#000000"},
   "encoding": {"text": {"field": "t"}}},
  {"data": {"values": [{"x": 161.95, "y": 28.85, "t": "3.0 m²"}, {"x": 160.9, "y": 26.83, "t": "10.8 folyóméter"}]},
   "mark": {"type": "text", "align": "center", "baseline": "middle", "fontSize": 17, "angle": 322, "color": "#000000"},
   "encoding": {"text": {"field": "t"}}},
  {"data": {"values": [{"x": 175.2, "y": 22.12, "t": "2.0 m²"}, {"x": 173.05, "y": 20.23, "t": "7.2 folyóméter"}]},
   "mark": {"type": "text", "align": "center", "baseline": "middle", "fontSize": 17, "angle": 332, "color": "#000000"},
   "encoding": {"text": {"field": "t"}}},
  {"data": {"values": [{"x": 175.2, "y": 11.44, "t": "1.0 m²"}, {"x": 172.6, "y": 9.72, "t": "3.6 folyóméter"}]},
   "mark": {"type": "text", "align": "center", "baseline": "middle", "fontSize": 17, "angle": 345, "color": "#000000"},
   "encoding": {"text": {"field": "t"}}}
]
}
